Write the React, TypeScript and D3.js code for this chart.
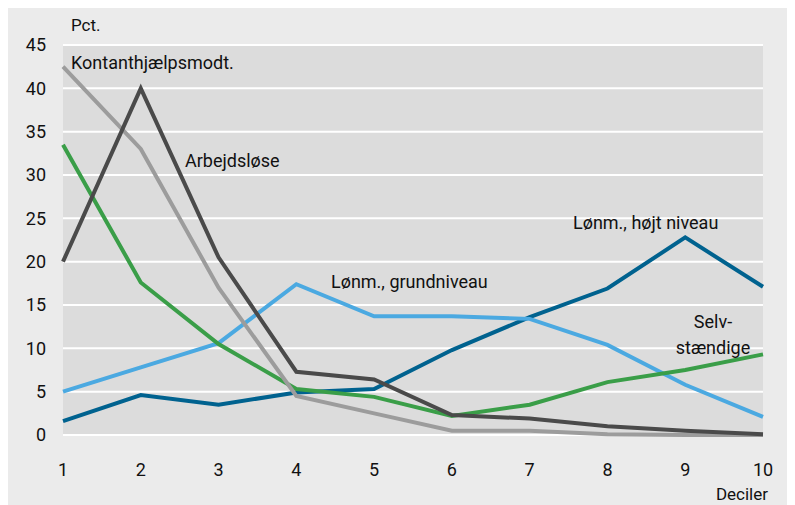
import * as d3 from 'd3';
import React, { useEffect, useRef } from 'react';

// deciler 1-10, andel i pct.
const deciles = [1, 2, 3, 4, 5, 6, 7, 8, 9, 10];
const yTicks = [0, 5, 10, 15, 20, 25, 30, 35, 40, 45];

const kontant = [42.5, 33, 17, 4.5, 2.5, 0.5, 0.5, 0.1, 0, 0];
const arbejdsloese = [20, 40, 20.5, 7.3, 6.4, 2.3, 1.9, 1.0, 0.5, 0.1];
const selvstaendige = [33.5, 17.6, 10.5, 5.3, 4.4, 2.2, 3.5, 6.1, 7.5, 9.3];
const grundniveau = [5, 7.8, 10.6, 17.4, 13.7, 13.7, 13.4, 10.4, 5.8, 2.1];
const hoejtNiveau = [1.6, 4.6, 3.5, 4.9, 5.3, 9.8, 13.6, 16.9, 22.8, 17.1];

const seriesNames = ['Kontanthjælpsmodt.', 'Arbejdsløse', 'Selvstændige', 'Lønm., grundniveau', 'Lønm., højt niveau'];
const seriesColors = ['#9c9c9c', '#4a4a4a', '#3a9e48', '#4ba9e1', '#00628f'];

const W = 787;
const H = 497;

export default function App() {
    const svgRef = useRef<SVGSVGElement>(null);

    useEffect(() => {
        const svg = d3.select(svgRef.current);
        svg.selectAll('*').remove();
        const font = 'Roboto, "Open Sans", sans-serif';

        // svg sits at (8,8) due to body margin, so shift coordinates
        const g = svg.append('g').attr('transform', 'translate(-8,-8)');

        g.append('rect').attr('x', 8).attr('y', 8).attr('width', W).attr('height', H).attr('fill', '#ebebeb');

        const x = d3.scaleLinear().domain([1, 10]).range([63, 763]);
        const y = d3.scaleLinear().domain([0, 45]).range([435, 45]);

        g.append('rect')
            .attr('x', x(1)).attr('y', y(45))
            .attr('width', x(10) - x(1)).attr('height', y(0) - y(45))
            .attr('fill', '#dcdcdc');

        g.selectAll('line.grid')
            .data(yTicks)
            .join('line')
            .attr('class', 'grid')
            .attr('x1', x(1)).attr('x2', x(10))
            .attr('y1', (d) => y(d)).attr('y2', (d) => y(d))
            .attr('stroke', '#ffffff').attr('stroke-width', 2);

        g.selectAll('text.ytick')
            .data(yTicks)
            .join('text')
            .attr('class', 'ytick')
            .attr('x', 46).attr('y', (d) => y(d))
            .attr('dy', '0.35em')
            .attr('text-anchor', 'end')
            .attr('font-family', font).attr('font-size', 18)
            .attr('fill', '#111')
            .text((d) => d);

        g.selectAll('text.xtick')
            .data(deciles)
            .join('text')
            .attr('class', 'xtick')
            .attr('x', (d) => x(d)).attr('y', 470)
            .attr('dy', '0.35em')
            .attr('text-anchor', 'middle')
            .attr('font-family', font).attr('font-size', 18)
            .attr('fill', '#111')
            .text((d) => d);

        g.append('text').attr('x', 71).attr('y', 25).attr('dy', '0.35em')
            .attr('font-family', font).attr('font-size', 17).attr('fill', '#111').text('Pct.');
        g.append('text').attr('x', 768).attr('y', 494).attr('dy', '0.35em').attr('text-anchor', 'end')
            .attr('font-family', font).attr('font-size', 17).attr('fill', '#111').text('Deciler');

        const allSeries = [kontant, arbejdsloese, selvstaendige, grundniveau, hoejtNiveau];
        const line = d3.line<number>().x((_, i) => x(deciles[i])).y((d) => y(d));
        // draw order: blues, green, greys on top
        const order = [4, 3, 2, 0, 1];
        order.forEach((i) => {
            g.append('path')
                .attr('d', line(allSeries[i]))
                .attr('fill', 'none')
                .attr('stroke', seriesColors[i])
                .attr('stroke-width', 4)
                .attr('stroke-linejoin', 'miter');
        });

        const labels = [
            { text: seriesNames[0], x: 71, y: 63, anchor: 'start' },
            { text: seriesNames[1], x: 185, y: 161, anchor: 'start' },
            { text: seriesNames[3], x: 331, y: 282, anchor: 'start' },
            { text: seriesNames[4], x: 573, y: 223, anchor: 'start' },
            { text: 'Selv-', x: 713, y: 322, anchor: 'middle' },
            { text: 'stændige', x: 713, y: 348, anchor: 'middle' },
        ];
        g.selectAll('text.lab')
            .data(labels)
            .join('text')
            .attr('class', 'lab')
            .attr('x', (d) => d.x).attr('y', (d) => d.y)
            .attr('dy', '0.35em')
            .attr('text-anchor', (d) => d.anchor)
            .attr('font-family', font).attr('font-size', 18)
            .attr('fill', '#111')
            .text((d) => d.text);
    }, []);

    return <svg ref={svgRef} width={W} height={H} style={{ display: 'block' }} />;
}
